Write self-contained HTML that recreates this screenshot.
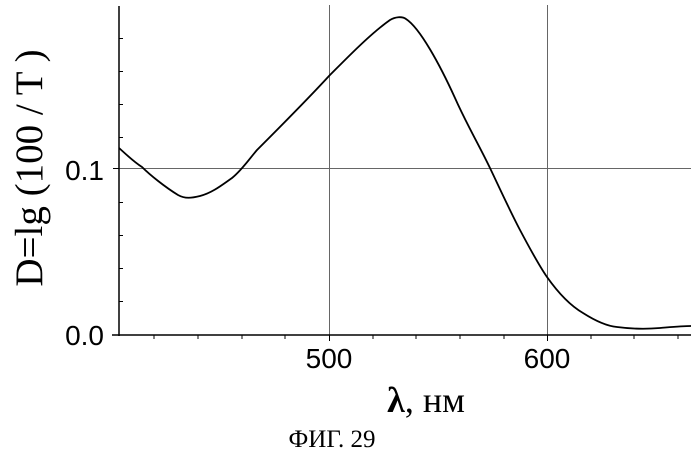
<!DOCTYPE html>
<html><head><meta charset="utf-8"><style>
body{margin:0;background:#fff;}
svg{display:block}
</style></head><body>
<svg width="699" height="453" viewBox="0 0 699 453" xmlns="http://www.w3.org/2000/svg">
<rect width="699" height="453" fill="#fff"/>
<g stroke="#666" stroke-width="1">
<line x1="329.5" y1="5" x2="329.5" y2="335"/>
<line x1="547.5" y1="5" x2="547.5" y2="335"/>
<line x1="119" y1="168.5" x2="691" y2="168.5"/>
</g>
<g stroke="#000" stroke-width="1.5" fill="none">
<line x1="119" y1="6" x2="119" y2="336"/>
<line x1="112" y1="335" x2="691" y2="335"/>
</g>
<g stroke="#000" stroke-width="1">
<line x1="119" y1="38.5" x2="123" y2="38.5"/>
<line x1="119" y1="71.5" x2="123" y2="71.5"/>
<line x1="119" y1="104.5" x2="123" y2="104.5"/>
<line x1="119" y1="137.5" x2="123" y2="137.5"/>
<line x1="119" y1="202.5" x2="123" y2="202.5"/>
<line x1="119" y1="235.5" x2="123" y2="235.5"/>
<line x1="119" y1="268.5" x2="123" y2="268.5"/>
<line x1="119" y1="301.5" x2="123" y2="301.5"/>
<line x1="113" y1="168.5" x2="119" y2="168.5"/>
<line x1="154" y1="335" x2="154" y2="339"/>
<line x1="198" y1="335" x2="198" y2="339"/>
<line x1="242" y1="335" x2="242" y2="339"/>
<line x1="285" y1="335" x2="285" y2="339"/>
<line x1="329.5" y1="335" x2="329.5" y2="341"/>
<line x1="373" y1="335" x2="373" y2="339"/>
<line x1="416" y1="335" x2="416" y2="339"/>
<line x1="460" y1="335" x2="460" y2="339"/>
<line x1="504" y1="335" x2="504" y2="339"/>
<line x1="547.5" y1="335" x2="547.5" y2="341"/>
<line x1="591" y1="335" x2="591" y2="339"/>
<line x1="634" y1="335" x2="634" y2="339"/>
<line x1="678" y1="335" x2="678" y2="339"/>
</g>
<path d="M119,148 C128,156 134,162 142,167 C150,175 165,187 178,195 C185,199 192,198 200,196 C212,193 222,185 232,178 C242,170 250,158 257,150 C275,132 305,102 329,76 C345,60 370,34 390,20 C395,17 402,16 406,19 C420,28 440,65 455,98 C467,125 478,143 490,168 C500,189 510,211 520,230 C529,247 538,264 547,277 C559,294 571,306 583,313 C594,320 606,326 617,327 C632,329 648,329 660,328 C672,327 682,326 691,326" fill="none" stroke="#000" stroke-width="1.8"/>
<g font-family="Liberation Sans, sans-serif" font-size="28" fill="#000">
<text x="104" y="180" text-anchor="end">0.1</text>
<text x="104" y="345" text-anchor="end">0.0</text>
<text x="329" y="368" text-anchor="middle">500</text>
<text x="547" y="368" text-anchor="middle">600</text>
</g>
<text x="426" y="412" text-anchor="middle" font-family="Liberation Serif, serif" font-size="36" fill="#000"><tspan font-weight="bold">λ</tspan>, нм</text>
<text x="332" y="447" text-anchor="middle" font-family="Liberation Serif, serif" font-size="25" fill="#000">ФИГ. 29</text>
<text transform="translate(42,168) rotate(-90)" text-anchor="middle" font-family="Liberation Serif, serif" font-size="39" fill="#000">D=lg (100 / T )</text>
</svg>
</body></html>
